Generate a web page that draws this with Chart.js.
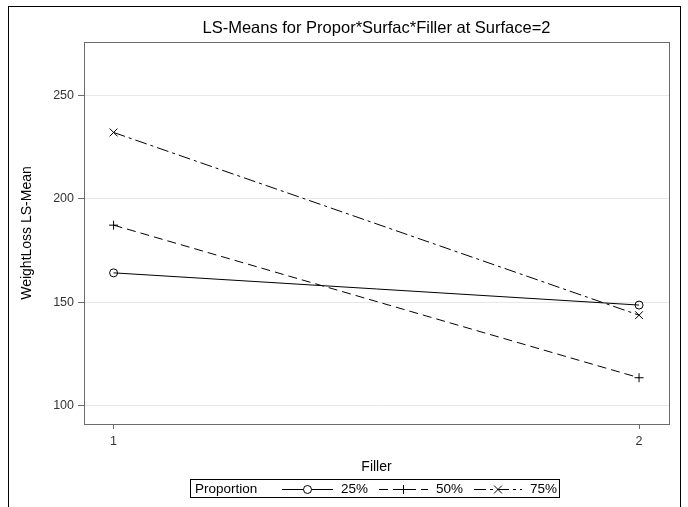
<!DOCTYPE html>
<html>
<head>
<meta charset="utf-8">
<script src="https://cdn.jsdelivr.net/npm/chart.js@4.4.1/dist/chart.umd.min.js"></script>
<style>
  html, body { margin: 0; padding: 0; background: #fff; }
  #wrap { position: relative; width: 688px; height: 507px; overflow: hidden; }
  #frame { position: absolute; left: 8px; top: 6px; width: 673px; height: 520px; border: 1px solid #000; box-sizing: border-box; pointer-events: none; }
  canvas { position: absolute; left: 0; top: 0; }
</style>
</head>
<body>
<div id="wrap">
  <canvas id="c" width="688" height="507"></canvas>
  <div id="frame"></div>
</div>
<script>
const titleText = "LS-Means for Propor*Surfac*Filler at Surface=2";
const xLabel = "Filler";
const yLabel = "WeightLoss LS-Mean";
const legendTitle = "Proportion";
const fillerLevels = [1, 2];
const seriesNames = ["25%", "50%", "75%"];
const values25 = [164.2, 148.6];
const values50 = [187.3, 113.4];
const values75 = [232.2, 143.7];
const yTicks = [100, 150, 200, 250];
const xTicks = [1, 2];

const FONT = "'Liberation Sans', Arial, sans-serif";
const toPts = (vals) => fillerLevels.map((f, i) => ({ x: f, y: vals[i] }));

const styles = [
  { dash: [], pointStyle: 'circle', radius: 4 },
  { dash: [9, 5], pointStyle: 'cross', radius: 4.5 },
  { dash: [12, 4, 3, 4], pointStyle: 'crossRot', radius: 5.5 }
];
const allVals = [values25, values50, values75];

const datasets = seriesNames.map((name, i) => ({
  label: name,
  data: toPts(allVals[i]),
  borderColor: '#000',
  backgroundColor: '#fff',
  borderWidth: 1,
  borderDash: styles[i].dash,
  pointStyle: styles[i].pointStyle,
  pointRadius: styles[i].radius,
  pointBorderColor: '#000',
  pointBackgroundColor: 'rgba(255,255,255,0)',
  pointBorderWidth: 1,
  tension: 0
}));

const decor = {
  id: 'decor',
  afterDraw(chart) {
    const ctx = chart.ctx;
    const a = chart.chartArea;
    ctx.save();
    // plot frame
    ctx.strokeStyle = '#6b6b6b';
    ctx.lineWidth = 1;
    ctx.setLineDash([]);
    ctx.strokeRect(Math.round(a.left) + 0.5, Math.round(a.top) + 0.5, Math.round(a.right - a.left), Math.round(a.bottom - a.top));
    // title
    ctx.fillStyle = '#000';
    ctx.font = "16.5px " + FONT;
    ctx.textAlign = 'center';
    ctx.textBaseline = 'middle';
    ctx.fillText(titleText, (a.left + a.right) / 2, 28);
    // legend
    const lx = 190, ly = 479, lw = 369, lh = 18;
    ctx.strokeStyle = '#000';
    ctx.strokeRect(lx + 0.5, ly + 0.5, lw, lh);
    ctx.font = "13.5px " + FONT;
    ctx.textAlign = 'left';
    ctx.fillStyle = '#000';
    const cy = ly + lh / 2 + 1;
    ctx.fillText(legendTitle, 195, cy);
    const items = [
      { x0: 282, x1: 333, tx: 341 },
      { x0: 379, x1: 428, tx: 436 },
      { x0: 474, x1: 522, tx: 530 }
    ];
    items.forEach((it, i) => {
      const ds = chart.data.datasets[i];
      ctx.strokeStyle = '#000';
      ctx.lineWidth = 1;
      ctx.setLineDash(ds.borderDash);
      ctx.beginPath();
      ctx.moveTo(it.x0, cy + 0.5);
      ctx.lineTo(it.x1, cy + 0.5);
      ctx.stroke();
      ctx.setLineDash([]);
      const mx = (it.x0 + it.x1) / 2;
      ctx.fillStyle = '#fff';
      Chart.helpers.drawPoint(ctx, { pointStyle: ds.pointStyle, radius: ds.pointRadius, borderWidth: 1 }, mx, cy + 0.5);
      ctx.fillStyle = '#000';
      ctx.fillText(ds.label, it.tx, cy);
    });
    ctx.restore();
  }
};

new Chart(document.getElementById('c'), {
  type: 'line',
  data: { datasets },
  options: {
    responsive: false,
    animation: false,
    devicePixelRatio: 1,
    layout: { padding: { left: 8, right: 19, top: 42, bottom: 30 } },
    plugins: { legend: { display: false }, title: { display: false }, tooltip: { enabled: false } },
    scales: {
      x: {
        type: 'linear',
        min: 0.9437,
        max: 2.057,
        afterBuildTicks: (s) => { s.ticks = xTicks.map(v => ({ value: v })); },
        afterFit: (s) => { s.height = 53; },
        ticks: { font: { size: 12.5, family: FONT }, color: '#333', padding: 5, maxRotation: 0, callback: (v) => String(v) },
        grid: { drawOnChartArea: false, drawTicks: true, tickLength: 5, tickColor: '#6b6b6b' },
        border: { display: false },
        title: { display: true, text: xLabel, font: { size: 14, family: FONT }, color: '#000', padding: { top: 0, bottom: 1 } }
      },
      y: {
        type: 'linear',
        min: 91,
        max: 276,
        afterBuildTicks: (s) => { s.ticks = yTicks.map(v => ({ value: v })); },
        afterFit: (s) => { s.width = 76; },
        ticks: { font: { size: 12.5, family: FONT }, color: '#333', padding: 4, callback: (v) => String(v) },
        grid: { color: '#e8e8e8', drawTicks: true, tickLength: 6, tickColor: '#6b6b6b' },
        border: { display: false },
        title: { display: true, text: yLabel, font: { size: 14, family: FONT }, color: '#000', padding: { top: 11, bottom: 0 } }
      }
    }
  },
  plugins: [decor]
});
</script>
</body>
</html>
